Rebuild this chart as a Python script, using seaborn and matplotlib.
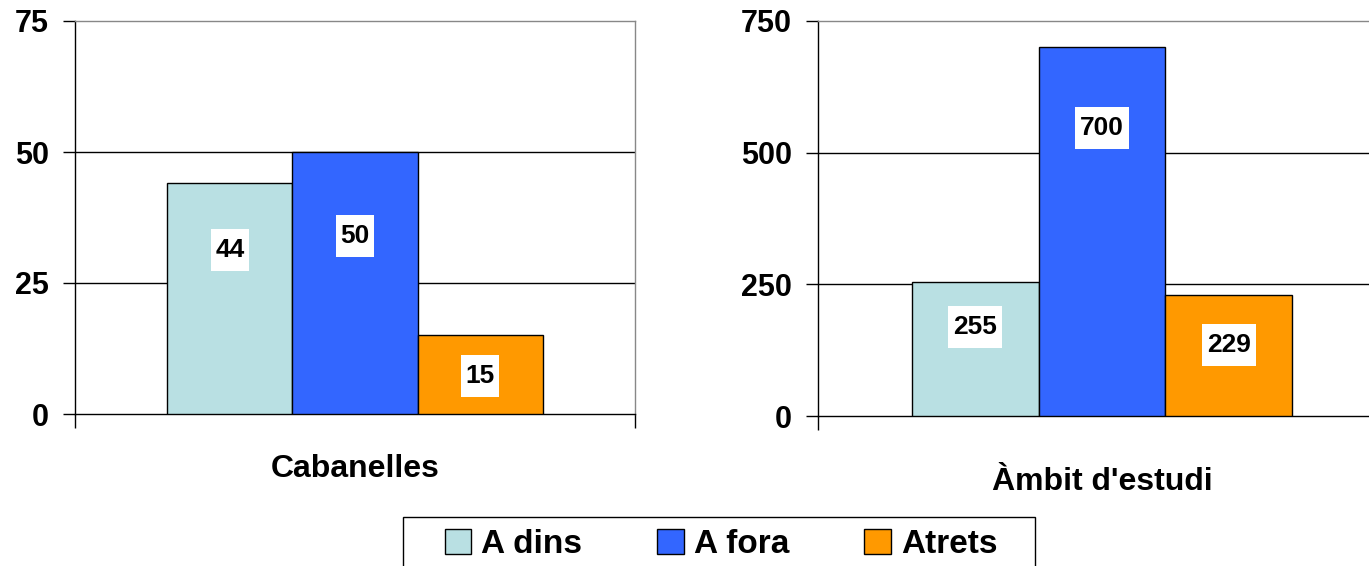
import pandas as pd
import seaborn as sns
import matplotlib.pyplot as plt
from matplotlib.patches import Patch, Rectangle

# data
categories = ["A dins", "A fora", "Atrets"]
regions = ["Cabanelles", "Àmbit d'estudi"]
cabanelles_values = [44, 50, 15]
ambit_values = [255, 700, 229]
y_ticks = [[0, 25, 50, 75], [0, 250, 500, 750]]

colors = {"A dins": "#B9E0E3", "A fora": "#3366FF", "Atrets": "#FF9900"}
# where each value box sits, as a fraction of its bar height
label_frac = [[0.71, 0.68, 0.48], [0.66, 0.78, 0.59]]
xlabel_pads = [15, 23]

sns.set_style("white")
plt.rcParams['font.family'] = ['Liberation Sans', 'DejaVu Sans']
plt.rcParams['font.weight'] = 'bold'
plt.rcParams['text.color'] = 'black'
plt.rcParams['axes.labelcolor'] = 'black'
plt.rcParams['xtick.color'] = 'black'
plt.rcParams['ytick.color'] = 'black'

fig = plt.figure(figsize=(13.69, 5.66), dpi=100)
ax_left = fig.add_axes([75 / 1369, 1 - 414 / 566, 560 / 1369, 393 / 566])
ax_right = fig.add_axes([818 / 1369, 1 - 416 / 566, 568 / 1369, 395 / 566])

for ax, region, values, ticks, fracs, lpad in zip(
		[ax_left, ax_right], regions, [cabanelles_values, ambit_values], y_ticks, label_frac, xlabel_pads):
	df = pd.DataFrame({"region": region, "category": categories, "value": values})
	sns.barplot(data=df, x="region", y="value", hue="category", palette=colors,
				width=0.67, edgecolor="black", linewidth=1, saturation=1,
				legend=False, ax=ax, zorder=3)
	ax.set_xlim(-0.5, 0.5)
	ax.set_ylim(ticks[0], ticks[-1])
	ax.set_yticks(ticks)
	ax.tick_params(axis='y', direction='out', length=9, width=1, color='black',
				   labelsize=22, pad=10, left=True)
	ax.set_xticks([-0.5, 0.5])
	ax.set_xticklabels([])
	ax.tick_params(axis='x', direction='out', length=10, width=1, color='black', bottom=True)
	ax.set_ylabel("")
	ax.set_xlabel(region, fontsize=23, fontweight='bold', labelpad=lpad)

	# gridlines at the inner ticks
	for t in ticks[1:-1]:
		ax.axhline(t, color='black', lw=1, zorder=1)

	ax.spines['left'].set_color('black')
	ax.spines['bottom'].set_color('black')
	ax.spines['top'].set_color('#888888')
	ax.spines['right'].set_color('#888888')
	for s in ax.spines.values():
		s.set_linewidth(1)
		s.set_visible(True)

	# value boxes inside the bars (tall, narrow white boxes)
	for container, frac in zip(ax.containers, fracs):
		for rect in container:
			h = rect.get_height()
			ax.text(rect.get_x() + rect.get_width() / 2, h * frac, f"{h:.0f}",
					ha='center', va='center', fontsize=19, fontweight='bold',
					zorder=5,
					bbox=dict(boxstyle='square,pad=0.18', mutation_aspect=1.9,
							  facecolor='white', edgecolor='none'))

handles = [Patch(facecolor=colors[c], edgecolor='black', linewidth=1, label=c) for c in categories]
leg = fig.legend(handles=handles, loc='upper center', bbox_to_anchor=(721 / 1369, 1 - 517 / 566),
				 ncol=3, fontsize=24, frameon=False,
				 handlelength=0.8, handleheight=0.8, handletextpad=0.3, columnspacing=2.25,
				 borderpad=0.35, borderaxespad=0)
for t in leg.get_texts():
	t.set_fontweight('bold')

# legend frame, running off the bottom edge as in the reference
fig.add_artist(Rectangle((403 / 1369, -0.05), 632 / 1369, 0.05 + 1 - 517 / 566,
						 transform=fig.transFigure, facecolor='none', edgecolor='black', lw=1))

fig.savefig("out.png", dpi=100)
